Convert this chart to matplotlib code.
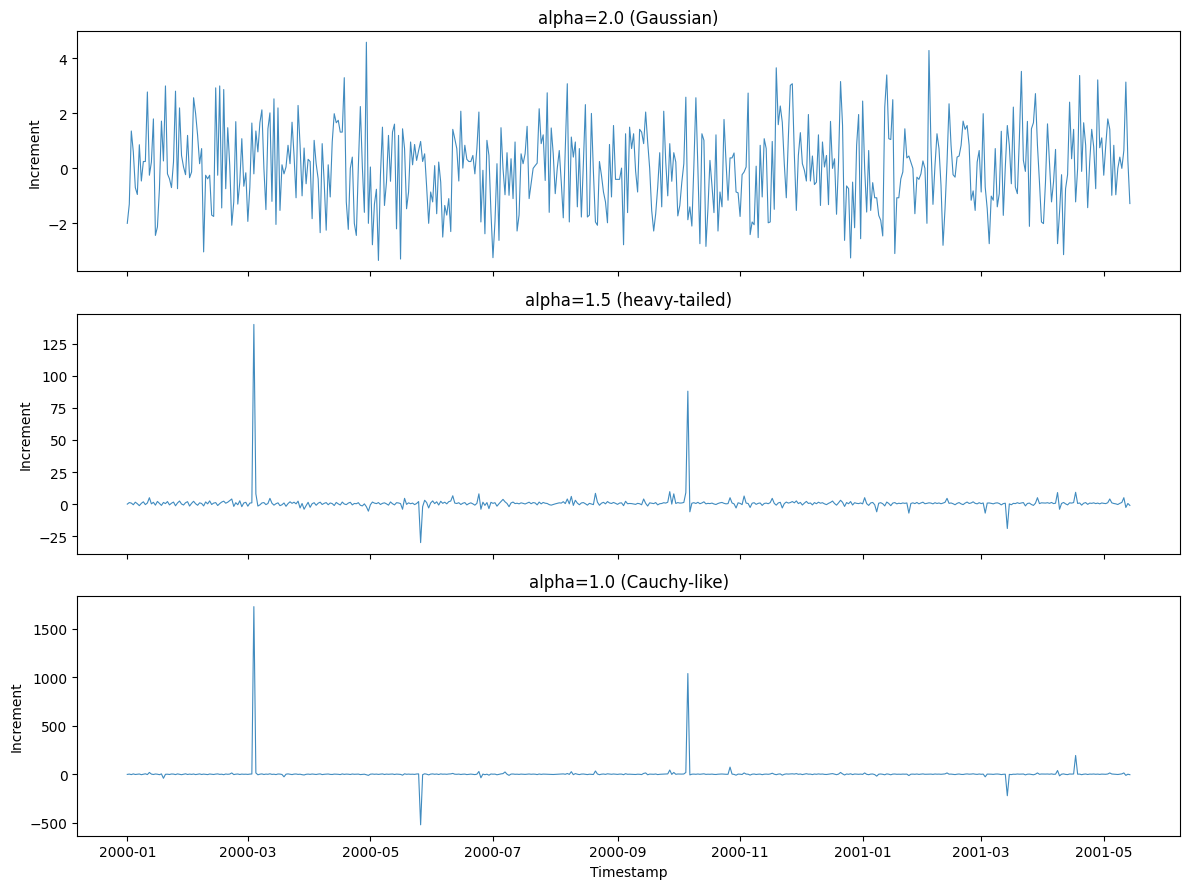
import matplotlib
matplotlib.use("Agg")
import matplotlib.pyplot as plt
import pandas as pd

start_date = "2000-01-01"

titles = ["alpha=2.0 (Gaussian)", "alpha=1.5 (heavy-tailed)", "alpha=1.0 (Cauchy-like)"]

gaussian = [
    -2.0, -1.3, 1.36, 0.6, -0.7, -0.95, 0.86, -0.46, 0.25, 0.25,
    2.78, -0.25, 0.23, 1.8, -2.44, -2.13, -0.74, 1.72, 0.27, 3.0,
    -0.2, -0.38, -0.7, 0.23, 2.81, -0.74, 2.2, 0.47, 0.05, -0.23,
    1.2, -0.34, -0.13, 2.57, 2.0, 1.2, 0.17, 0.72, -3.04, -0.25,
    -0.38, -0.25, -1.7, -1.75, 2.93, -0.25, 3.0, -1.44, 2.87, -0.74,
    1.48, 0.1, -2.07, -1.22, 1.7, -1.3, -0.5, 1.08, -0.65, -0.16,
    -1.93, -0.68, 1.65, -0.2, 1.36, 0.6, 1.66, 2.13, 0.0, -1.5,
    1.44, 2.02, -1.2, 2.53, -2.04, 2.2, -1.53, 0.13, -0.2, 0.05,
    0.84, 0.17, 1.68, 0.47, -1.07, 2.29,
    0.84, -1.0, 0.74, -0.56, 0.33, 0.25, -1.83, 1.02, 0.17, -0.38,
    -2.34, 0.9, -0.5, -2.25, 0.13, -1.04, 0.96, 1.99, 1.66, 1.75,
    1.32, 1.32, 3.3, -1.22, -2.22, 0.0, 0.41, -2.0, -2.44, 0.05,
    2.25, 0.05, -1.6, 4.59, -2.0, 0.05, -2.78, -1.3, -0.76, -3.35,
    -0.25, 1.5, -1.35, -0.5, 1.2, -0.47, 1.32, 1.61, -2.2, 1.2,
    -3.3, 1.44, 0.72, -1.47, -0.86, 0.96, 0.13, 0.87, 0.29, 0.65,
    0.98, 0.25, 0.53, -0.68, -2.0, -0.86, -1.22, 0.1, -1.65, 0.23,
    -0.5, -2.5, -1.35, -1.7, -1.1, -2.3, 1.42, 1.08, 0.72, -0.46,
    2.08, 0.01, 0.84, 0.33,
    0.25, 0.25, 0.47, -0.2, 0.72, 2.05, -1.95, -0.07, -2.38, 1.02,
    0.47, -1.6, -3.25, -1.95, 0.17, -2.62, 1.48, 0.0, -0.96, 0.57,
    -0.98, 0.35, -1.1, 0.96, -2.28, -1.7, 0.53, 0.17, 0.53, 1.53,
    -1.1, -0.56, 0.0, 0.1, 0.19, 2.17, 0.9, 1.22, -0.44, 2.75,
    -1.6, 1.47, 0.53, -0.92, 0.0, 0.65, -0.5, -1.8, 0.72, 3.08,
    -1.95, 1.14, 0.41, 0.96, -1.4, 0.72, -1.77, 0.17, 2.32, -1.77,
    -1.7, 2.0, -0.13, -1.95, -2.07, 0.25, -0.25, -0.86, -1.22, -1.98,
    0.87, -1.04, 1.56, -0.4, -0.4, -0.4, 0.01, -2.78, 1.26, -1.61,
    1.5, 0.72, 1.26, -0.1, -0.86,
    1.42, 1.32, 0.9, 2.05, 0.96,
    0.0, -1.53, -2.28, -1.65, -0.68, 0.57, -1.4, 2.08, 0.23, -1.0,
    0.9, -0.47, 0.57, 0.23, -1.73, -1.35, -0.5, 0.17, 2.59, -1.87,
    -1.4, -2.1, 0.1, 2.57, 0.0, -2.74, 1.26, 1.02, -2.84, -1.47,
    0.29, -0.62, -1.61, 1.22, -2.28, -0.86, -1.4, 1.78, 0.23, -1.16,
    0.38, 0.38, 0.56, -0.86, -0.89, -1.75, -0.23, -0.13, 0.05, 2.74,
    -2.41, -1.95, -2.05, 0.08, -2.52, 0.84, -1.04, 1.08, 0.72, -1.98,
    -1.95, 0.98, -1.49, 3.66, 1.59, 2.27, 1.68, 0.17, -1.07, 1.08,
    3.02, 3.08, 0.51, -1.53, 0.47, 1.3, 0.17, -0.07, -0.46, 1.96,
    -0.46, 0.45, -0.59, -0.5, 1.22, -1.35, 0.96, 0.05, 0.47, -1.32,
    1.71, 0.0, 0.35, -1.67, 0.23, 3.16, 1.56, -2.62, -0.64, -0.74,
    -3.26, -0.5, -2.16, 0.84, 1.96, -2.56, 2.45, 0.0, -1.59, 0.65,
    -1.53, -0.52, -1.07, -1.07, -1.71, -1.89, -2.46, 2.23, 3.4, 1.08,
    1.05, 2.5, -3.1, -1.07, -1.07, -0.38, -0.13, 1.44, 0.38, 0.45,
    0.23, 0.0, -1.65, -0.32, -0.4, -0.2, 0.27, 0.0, -2.0, 4.29,
    0.84, -1.31, 0.1, 1.26, 0.72, -0.62, -2.8, -1.47, 0.23, 2.35,
    0.84, -0.23, -0.32, 0.41, 0.45, 0.84, 1.72, 1.42, 1.56, 0.84,
    -1.16, -0.82, -1.53, 0.23,
    0.65, -0.86, 1.99, -0.68, -1.47, -2.74,
    -1.01, -1.16, 0.72, -1.4, -0.92, 1.35, -1.71, 0.05, 1.56, 0.84,
    -0.56, 2.23, -0.68, -0.92, 1.08, 3.53, 0.29, -0.11, 1.71, -2.11,
    1.44, 1.66, 2.72, 0.84, -0.5, -1.95, -2.01, -0.5, 1.62, 0.23,
    -1.22, -0.5, 0.69, -2.74, -1.59, -0.23, -3.14, -0.74, -0.23, 2.41,
    0.35, 1.42, -1.22, 0.0, 3.38, -0.11, 1.66, 0.84, -1.43, 0.23,
    1.42, 0.78, -0.74, 3.22, 0.75, 1.11, -0.25, 0.84, 1.8, 1.42,
    -0.98, 0.84, -0.96, 0.0, 0.41, 0.0, 0.65, 3.14, 0.29, -1.28,
]

heavy = [
    0, 1.2, 0.8, -0.5, 1.5, 0.3, -1.2, 0.6, 1.8, -0.4, 0.9, 5.0, 0.2, 1.4, -0.8, 2.1, 0.5, -1.0, 1.3, 0.4,
    2.0, -0.6, 0.7, 1.6, -1.3, 0.9, 2.4, 0.1, -0.7, 1.1, 1.9, -1.5, 0.6, 2.2, 0.3, -0.9, 1.0, 0.5, -1.4, 1.7,
    0.2, 2.5, -0.3, 0.8, 1.2, -1.1, 0.4, 1.6, 2.3, 0.7, 1.5, 2.8, 4.0, -1.8, 1.1, -0.5, 2.6, -2.0, 0.9, 1.4,
    -1.6, 0.8, 1.0, 140.0, 8.0, -1.5, -0.6, 0.9, 1.2, -0.4, 0.5, 4.5, 0.7, -0.8, 0.3, 1.0, -1.2, -0.5, 0.9, -1.7,
    0.4, 1.8, 0.6, 1.5, 0.2, 2.3, -3.0, 0.5, -4.0, -1.2, 1.4, -2.5, 0.3, 1.1, -0.9, 0.7, 1.5, -0.3, 0.6, 1.2,
    -0.5, 0.9, 0.4, -1.1, 1.3, 0.2, -0.7, 1.6, 0.1, -0.4, 0.8, 1.4, -0.6, 0.5, 0.3, 1.1, -0.9, -1.4, 0.2, -2.0,
    -5.5, -0.5, 1.6, 0.8, 0.4, 1.2, -0.3, 0.6, 1.0, 0.2, -0.8, 1.7, 0.3, -0.6, 1.1, 0.9, 0.4, -4.0, 4.5, -0.2,
    1.0, 0.3, 0.8, -0.4, 0.5, 2.0, -30.0, -2.0, 3.0, 1.2, -3.0, 0.9, 2.5, 0.4, 1.8, -0.7, 2.2, 0.6, 1.5, 0.2,
    1.9, 2.4, 6.5, 0.8, 0.5, 1.1, -0.3, 0.7, 1.2, -0.6, 0.4, 1.0, 0.2, -0.8, 0.6, 8.0, -4.0, 1.5, -1.0, 1.2,
    -3.5, 1.4, 0.6, 1.1, -1.6, 0.3, 2.0, 3.7, 1.8, 0.5, -2.0, 0.9, 1.6, 0.4, 0.7, 0.2, 1.0, 0.6, 0.1, 0.8,
    1.5, 0.3, 1.2, 0.9, -0.6, 1.6, 0.2, 1.3, 0.7, 0.5, -0.4, -0.8, -0.3, 0.2, 0.6, 1.0, 0.8, 1.9, 0.4, 4.0,
    0.2, 6.0, -1.0, 3.0, 0.8, -0.5, 0.9, 1.2, 0.3, -0.8, 0.6, 0.1, -0.4, 8.4, 1.5, -0.9, 0.7, 1.4, 0.2, 2.0,
    0.9, 0.5, 1.3, 0.6, -0.2, 0.8, 1.0, -1.2, 2.2, 0.3, 0.5, 0.4, 0.1, -0.2, 0.6, 0.3, -0.5, 4.0, 0.6, -1.5,
    1.0, 0.7, 0.4, 1.2, -0.6, 0.3, 0.5, 1.1, 0.8, 1.5, 9.7, 0.0, 8.0, 0.5, 1.2, 0.8, 0.9, 1.3, 9.0, 88.0,
    -6.0, 0.7, 1.1, 0.5, 1.4, 0.3, 0.9, 1.8, 0.2, 0.6, 0.4, 0.8, 0.1, -0.3, 0.5, 1.0, 1.3, 0.6, 0.2, 0.4,
    5.0, 0.9, 0.2, -3.0, 1.0, 0.6, -0.4, 6.3, 0.8, 0.5, -2.6, 0.7, 1.1, -0.2, 0.6, 0.9, -1.0, 0.5, 0.8, 0.3,
    1.2, 4.5, 0.6, -0.8, 0.9, 1.4, -3.0, 0.4, 1.6, 0.8, 1.2, 2.0, 1.0, 2.5, 0.4, 1.3, -0.7, 0.8, 2.1, 0.5,
    0.9, -0.6, 1.2, 0.3, 1.5, 0.7, 1.1, 0.2, -0.4, 0.6, 1.3, 2.4, 0.5, -0.8, 1.0, 3.0, 1.4, -1.8, 1.2, 0.3,
    2.0, -0.7, 1.1, 0.6, 0.4, 0.9, 0.2, 5.0, 0.4, -1.0, 0.9, 1.3, -0.5, -6.0, 0.7, 1.1, 0.3, -1.4, 1.6, 0.5,
    -1.2, 0.8, 1.2, 0.2, 0.7, 0.4, 0.9, 0.6, 0.9, -7.0, 0.5, 1.0, 0.4, 1.3, 0.2, 0.9, 1.5, 0.3, 0.6, 1.0,
    0.8, 0.2, 1.1, 0.5, 0.9, 0.3, 0.8, 1.4, 4.5, 0.6, 0.9, 0.3, -0.5, 0.6, 1.2, 0.2, -0.4, 0.8, 1.6, 0.5,
    0.9, 1.8, 0.6, 0.2, 1.1, 0.4, 0.9, -7.0, 0.8, 0.9, 0.6, 0.2, 0.8, 1.0, 0.5, -0.6, 0.4, 0.7, -19.0, 0.2,
    -0.5, 0.6, 0.4, 1.1, 0.5, 0.9, 1.2, -1.4, 0.5, 0.8, -0.3, -1.0, 0.7, 5.0, 0.4, 1.0, 0.9, 0.8, 1.1, 0.6,
    1.3, 0.4, 0.7, 9.0, -4.0, 0.5, 1.3, 0.2, -0.6, 1.0, 0.8, 1.2, 9.2, 0.5, 0.9, -0.8, 0.7, 1.2, -0.2, 0.8,
    0.6, 1.0, 0.4, 0.8, 0.2, 0.9, 0.6, 0.4, 1.1, 4.0, 1.0, 0.5, 0.2, -0.3, 0.6, 1.3, 5.0, -2.6, 0.5, -1.0,
]

cauchy = [
    0, 3, -2, 5, -1, 2, 4, -3, 1, 6, -2, 20, 3, -1, 4, 2, -3, 5, -40, 1,
    2, -1, 4, 3, -2, 5, 1, -3, 2, 6, -1, 3, 0, 4, -2, 2, 5, -1, 3, 1,
    -2, 4, 2, -1, 3, 5, 0, 2, -3, 4, 1, 3, 15, -2, 2, 4, -1, 3, 1, 2,
    0, 3, 4, 1730, 15, -4, 2, 5, -1, 3, 1, 6, 0, 2, -2, 4, 3, -1, -25, 2,
    5, 1, -2, 3, 4, 0, 2, -3, -6, 1, 3, 0, 4, 2, -1, 3, 5, -2, 1, 2,
    4, 0, -1, 3, 2, 1, -2, 5, 0, 3, 2, -1, 4, 1, 2, 3, -2, 0, 2, -4,
    -10, 2, 4, 1, 3, 0, 2, 5, -1, 3, 1, 2, 4, -1, 3, 2, 0, -8, 6, 1,
    3, 1, 2, 0, 4, 5, -520, -3, 6, 2, -5, 3, 5, 1, 4, -1, 5, 2, 3, 1,
    4, 5, 10, 2, 1, 3, -1, 2, 3, -2, 1, 3, 0, -2, 2, 30, -35, 3, -3, 2,
    -8, 4, 2, 3, -4, 1, 5, 8, 25, 2, -10, 3, 4, 1, 2, 0, 3, 2, 0, 2,
    4, 1, 3, 2, -2, 4, 0, 3, 2, 1, -1, -2, -1, 0, 2, 3, 2, 5, 1, 9,
    0, 28, -3, 8, 2, -2, 3, 4, 1, -2, 2, 0, -1, 35, 4, -3, 2, 4, 0, 6,
    3, 1, 4, 2, 0, 3, 3, -3, 7, 1, 2, 1, 0, -1, 2, 1, -2, 10, 15, -4,
    3, 2, 1, 4, -2, 1, 2, 3, 3, 5, 45, 0, 20, 1, 4, 3, 3, 4, 20, 1040,
    -5, 2, 3, 1, 4, 1, 3, 6, 0, 2, 1, 3, 0, -1, 2, 3, 4, 2, 1, 1,
    75, 3, 0, -8, 3, 2, -1, 15, 3, 2, -7, 2, 4, -1, 2, 3, -3, 2, 3, 1,
    4, 12, 2, -3, 3, 5, -8, 1, 5, 3, 4, 6, 3, 8, 1, 4, -2, 3, 7, 2,
    3, -2, 4, 1, 5, 2, 4, 0, -1, 2, 4, 8, 2, -3, 3, 20, 5, -6, 4, 1,
    6, -2, 4, 2, 1, 3, 0, 15, 1, -3, 3, 4, -2, -18, 2, 4, 1, -4, 5, 2,
    -4, 3, 4, 1, 2, 1, 3, 2, 3, -12, 2, 3, 1, 4, 0, 3, 5, 1, 2, 3,
    3, 0, 4, 2, 3, 1, 3, 5, 15, 2, 3, 1, -2, 2, 4, 0, -1, 3, 5, 2,
    3, 6, 2, 0, 4, 1, 3, -25, 3, 3, 2, 0, 3, 4, 2, -2, 1, 2, -220, 0,
    -2, 2, 1, 4, 2, 3, 4, -5, 2, 3, -1, -4, 2, 15, 1, 4, 3, 3, 4, 2,
    5, 1, 2, 40, -15, 2, 5, 0, -2, 4, 3, 4, 195, 2, 3, -3, 2, 4, -1, 3,
    2, 4, 1, 3, 0, 3, 2, 1, 4, 15, 4, 2, 0, -1, 2, 5, 15, -10, 2, -3,
]

series_list = [gaussian, heavy, cauchy]

fig, axes = plt.subplots(3, 1, figsize=(12, 9), dpi=100, sharex=True)
for ax, title, vals in zip(axes, titles, series_list):
    dates = pd.date_range(start_date, periods=len(vals), freq="D")
    ax.plot(dates, vals, color="#1f77b4", linewidth=0.8, alpha=0.85)
    ax.set_title(title)
    ax.set_ylabel("Increment")
axes[-1].set_xlabel("Timestamp")
fig.tight_layout()
fig.savefig("out.png", dpi=100, bbox_inches="tight")
